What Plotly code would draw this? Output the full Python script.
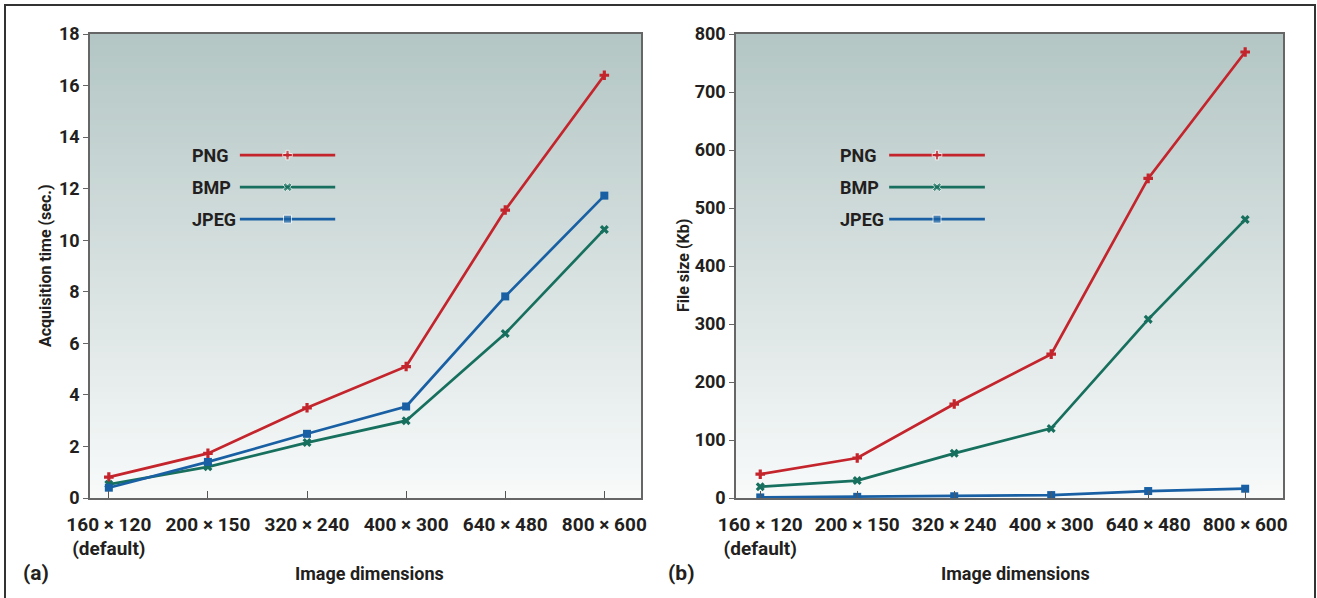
import plotly.graph_objects as go

# ---- data ----
categories = ["160x120", "200x150", "320x240", "400x300", "640x480", "800x600"]
tick_labels = ["160 × 120<br>(default)", "200 × 150", "320 × 240", "400 × 300", "640 × 480", "800 × 600"]
series_names = ["PNG", "BMP", "JPEG"]
time_png = [0.81, 1.73, 3.5, 5.1, 11.17, 16.4]
time_bmp = [0.53, 1.21, 2.15, 3.0, 6.38, 10.42]
time_jpeg = [0.4, 1.4, 2.49, 3.55, 7.82, 11.73]
size_png = [41, 69, 162, 248, 551, 769]
size_bmp = [19.5, 30, 77, 120, 308, 480]
size_jpeg = [1, 2, 3, 5, 12, 16]

colors = {"PNG": "#c4252d", "BMP": "#17705e", "JPEG": "#1860a3"}
symbols = {"PNG": "cross", "BMP": "x", "JPEG": "square"}

FONT = "Liberation Sans Narrow, Roboto, Liberation Sans, sans-serif"
W, H = 1317, 598

def px_x(p):
    return p / W

def px_y(p):
    return 1 - p / H

fig = go.Figure()

left_series = {"PNG": time_png, "BMP": time_bmp, "JPEG": time_jpeg}
right_series = {"PNG": size_png, "BMP": size_bmp, "JPEG": size_jpeg}

for name in series_names:
    fig.add_trace(go.Scatter(
        x=categories, y=left_series[name], mode="lines+markers", name=name,
        line=dict(color=colors[name], width=2.7),
        marker=dict(symbol=symbols[name], size=8, color=colors[name]),
        xaxis="x", yaxis="y", showlegend=False))
for name in series_names:
    fig.add_trace(go.Scatter(
        x=categories, y=right_series[name], mode="lines+markers", name=name,
        line=dict(color=colors[name], width=2.7),
        marker=dict(symbol=symbols[name], size=8, color=colors[name]),
        xaxis="x2", yaxis="y2", showlegend=False))

# custom legends (text left of the line sample) on overlay axes
legend_rows = [0.739, 0.670, 0.601]
legend_specs = [
    ("x3", "y3", 0.181, 0.272, 0.445, "x domain", "y domain"),
    ("x4", "y4", 0.186, 0.280, 0.455, "x2 domain", "y2 domain"),
]
annotations = []
for xa, ya, tx, lx0, lx1, xr, yr in legend_specs:
    for name, yy in zip(series_names, legend_rows):
        fig.add_trace(go.Scatter(
            x=[lx0, (lx0 + lx1) / 2, lx1], y=[yy, yy, yy], mode="lines+markers",
            line=dict(color=colors[name], width=2.7),
            marker=dict(symbol=symbols[name], size=[0, 8, 0], color=colors[name]),
            xaxis=xa, yaxis=ya, showlegend=False, hoverinfo="skip"))
        annotations.append(dict(
            x=tx, y=yy, xref=xr, yref=yr, text=name, showarrow=False,
            xanchor="left", yanchor="middle",
            font=dict(family=FONT, size=18, color="#231f20", weight="bold")))

# gradient backgrounds
shapes = []
N = 80
top = (179, 198, 196)
bot = (248, 250, 250)
for xr, yr in [("x domain", "y domain"), ("x2 domain", "y2 domain")]:
    for i in range(N):
        t = (i + 0.5) / N
        c = tuple(round(top[k] + (bot[k] - top[k]) * t) for k in range(3))
        shapes.append(dict(type="rect", xref=xr, yref=yr, x0=0, x1=1,
                           y0=1 - (i + 1) / N, y1=1 - i / N + 0.002,
                           fillcolor="rgb(%d,%d,%d)" % c, line=dict(width=0),
                           layer="below"))
# outer frame
shapes.append(dict(type="rect", xref="paper", yref="paper",
                   x0=px_x(5), x1=px_x(1315), y0=-0.05, y1=px_y(5),
                   line=dict(color="#333333", width=2), fillcolor="rgba(0,0,0,0)"))

# axis titles and panel labels
title_font = dict(family=FONT, size=18, color="#231f20", weight="bold")
annotations += [
    dict(x=px_x(370), y=px_y(573), xref="paper", yref="paper", text="Image dimensions",
         showarrow=False, font=title_font, xanchor="center", yanchor="middle"),
    dict(x=px_x(1015), y=px_y(573), xref="paper", yref="paper", text="Image dimensions",
         showarrow=False, font=title_font, xanchor="center", yanchor="middle"),
    dict(x=px_x(36), y=px_y(573), xref="paper", yref="paper", text="(a)",
         showarrow=False, font=dict(family=FONT, size=21, color="#231f20", weight="bold"),
         xanchor="center", yanchor="middle"),
    dict(x=px_x(681), y=px_y(573), xref="paper", yref="paper", text="(b)",
         showarrow=False, font=dict(family=FONT, size=21, color="#231f20", weight="bold"),
         xanchor="center", yanchor="middle"),
    dict(x=px_x(46), y=px_y(266), xref="paper", yref="paper", text="Acquisition time (sec.)",
         showarrow=False, font=dict(family=FONT, size=16, color="#231f20", weight="bold"),
         textangle=-90, xanchor="center", yanchor="middle"),
    dict(x=px_x(684), y=px_y(266), xref="paper", yref="paper", text="File size (Kb)",
         showarrow=False, font=dict(family=FONT, size=16, color="#231f20", weight="bold"),
         textangle=-90, xanchor="center", yanchor="middle"),
]

xtick_font = dict(family=FONT, size=19, color="#231f20", weight="bold")
ytick_font = dict(family=FONT, size=18, color="#231f20", weight="bold")
xcommon = dict(type="category", tickmode="array", tickvals=categories, ticktext=tick_labels,
               tickangle=0, automargin=False,
               ticks="inside", ticklen=7, tickcolor="#555555", tickwidth=1.2,
               showline=True, linecolor="#666666", linewidth=1.5, mirror=True,
               showgrid=False, zeroline=False, tickfont=xtick_font, ticklabelstandoff=8)
ycommon = dict(ticks="outside", ticklen=5, tickcolor="#666666", tickwidth=1.2,
               automargin=False,
               showline=True, linecolor="#666666", linewidth=1.5, mirror=True,
               showgrid=False, zeroline=False, tickfont=ytick_font)

dom_y = [px_y(498), px_y(34)]
fig.update_layout(
    width=W, height=H,
    margin=dict(l=0, r=0, t=0, b=0, pad=0, autoexpand=False),
    paper_bgcolor="white", plot_bgcolor="white",
    xaxis=dict(domain=[px_x(90), px_x(641)], range=[-0.19, 5.37], anchor="y", **xcommon),
    yaxis=dict(domain=dom_y, range=[0, 18], dtick=2, anchor="x", **ycommon),
    xaxis2=dict(domain=[px_x(736), px_x(1283)], range=[-0.25, 5.39], anchor="y2", **xcommon),
    yaxis2=dict(domain=dom_y, range=[0, 800], dtick=100, anchor="x2", **ycommon),
    xaxis3=dict(overlaying="x", range=[0, 1], visible=False, anchor="y3", automargin=False),
    yaxis3=dict(overlaying="y", range=[0, 1], visible=False, anchor="x3", automargin=False),
    xaxis4=dict(overlaying="x2", range=[0, 1], visible=False, anchor="y4", automargin=False),
    yaxis4=dict(overlaying="y2", range=[0, 1], visible=False, anchor="x4", automargin=False),
    shapes=shapes,
    annotations=annotations,
    showlegend=False,
)

fig.write_html(
    "out.html",
    config={"displayModeBar": False},
    post_script="document.body.style.margin='0';document.body.style.padding='0';"
                "document.body.style.overflow='hidden';",
)
